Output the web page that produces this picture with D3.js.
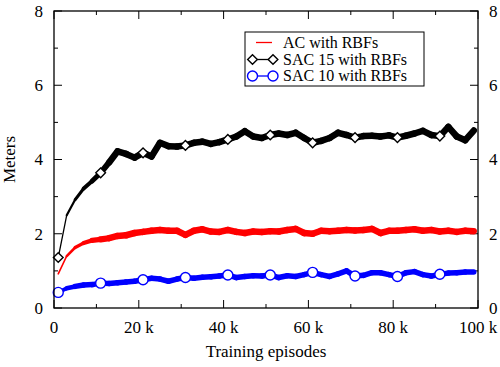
<!DOCTYPE html>
<html>
<head>
<meta charset="utf-8">
<script src="https://cdn.jsdelivr.net/npm/d3@7"></script>
<style>
  body { margin: 0; background: #fff; }
  svg text { font-family: "Liberation Serif", "Times New Roman", serif; font-size: 17px; fill: #000; }
</style>
</head>
<body>
<div id="chart"></div>
<script>
// episodes in thousands
const episodes = [1,3,5,7,9,11,13,15,17,19,21,23,25,27,29,31,33,35,37,39,41,43,45,47,49,
  51,53,55,57,59,61,63,65,67,69,71,73,75,77,79,81,83,85,87,89,91,93,95,97,99];
const acRbf = [0.92,1.4,1.63,1.75,1.82,1.85,1.88,1.94,1.96,2.02,2.05,2.08,2.1,2.08,2.08,1.97,2.08,2.12,2.06,2.05,
  2.1,2.05,2.02,2.06,2.05,2.07,2.06,2.1,2.13,2.02,2.0,2.08,2.07,2.08,2.1,2.09,2.1,2.13,2.02,2.08,
  2.08,2.1,2.12,2.08,2.1,2.06,2.08,2.05,2.08,2.07];
const sac15 = [1.36,2.5,2.92,3.22,3.42,3.64,3.92,4.22,4.15,4.05,4.18,4.08,4.45,4.36,4.35,4.38,4.45,4.48,4.42,4.47,
  4.54,4.62,4.76,4.62,4.58,4.66,4.7,4.66,4.72,4.58,4.45,4.5,4.58,4.72,4.66,4.59,4.63,4.64,4.62,4.65,
  4.59,4.64,4.7,4.77,4.66,4.63,4.88,4.62,4.52,4.78];
const sac10 = [0.42,0.53,0.58,0.62,0.63,0.67,0.66,0.68,0.7,0.72,0.76,0.8,0.78,0.72,0.78,0.82,0.8,0.83,0.84,0.86,
  0.89,0.82,0.85,0.87,0.86,0.89,0.82,0.87,0.85,0.9,0.96,0.9,0.85,0.92,1.0,0.86,0.88,0.95,0.95,0.9,
  0.85,0.95,0.98,0.9,0.86,0.91,0.94,0.95,0.97,0.97];
const markerEvery = 5;
const legendNames = ["AC with RBFs", "SAC 15 with RBFs", "SAC 10 with RBFs"];
const xTicks = [0, 20, 40, 60, 80, 100];
const yTicks = [0, 2, 4, 6, 8];

const W = 500, H = 367;
const margin = { top: 11, right: 22, bottom: 59, left: 54 };
const w = W - margin.left - margin.right;
const h = H - margin.top - margin.bottom;

const svg = d3.select("#chart").append("svg").attr("width", W).attr("height", H);
const g = svg.append("g").attr("transform", `translate(${margin.left},${margin.top})`);

const x = d3.scaleLinear().domain([0, 100]).range([0, w]);
const y = d3.scaleLinear().domain([0, 8]).range([h, 0]);

// ticks (inward on all four sides)
const minorX = d3.range(10, 100, 20), minorY = d3.range(1, 8, 2);
const tk = g.append("g").attr("stroke", "#000").attr("stroke-width", 1);
xTicks.concat(minorX).forEach(v => {
  const len = xTicks.includes(v) ? 8 : 4;
  tk.append("line").attr("x1", x(v)).attr("x2", x(v)).attr("y1", h).attr("y2", h - len);
  tk.append("line").attr("x1", x(v)).attr("x2", x(v)).attr("y1", 0).attr("y2", len);
});
yTicks.concat(minorY).forEach(v => {
  const len = yTicks.includes(v) ? 8 : 4;
  tk.append("line").attr("x1", 0).attr("x2", len).attr("y1", y(v)).attr("y2", y(v));
  tk.append("line").attr("x1", w).attr("x2", w - len).attr("y1", y(v)).attr("y2", y(v));
});

// tick labels
g.selectAll(".xl").data(xTicks).enter().append("text")
  .attr("x", d => x(d)).attr("y", h + 25).attr("text-anchor", "middle")
  .text(d => d === 0 ? "0" : d + " k");
g.selectAll(".yl").data(yTicks).enter().append("text")
  .attr("x", -11).attr("y", d => y(d)).attr("dy", "0.35em").attr("text-anchor", "end")
  .text(d => d);
g.selectAll(".yr").data(yTicks).enter().append("text")
  .attr("x", w + 11).attr("y", d => y(d)).attr("dy", "0.35em").attr("text-anchor", "start")
  .text(d => d);

g.append("text").attr("x", w / 2).attr("y", h + 49).attr("text-anchor", "middle").text("Training episodes");
g.append("text").attr("transform", `translate(${-39},${h / 2}) rotate(-90)`)
  .attr("text-anchor", "middle").text("Meters");

// series: each segment drawn on its own so the noisy band can widen as the run settles
const series = [
  { vals: acRbf, color: "#ff0000", band: 6.5, start: 0.25, marker: null },
  { vals: sac15, color: "#000000", band: 6.5, start: 0.2, marker: "diamond" },
  { vals: sac10, color: "#0000ff", band: 5.5, start: 0.7, marker: "circle" }
];

series.forEach(s => {
  const grp = g.append("g").attr("stroke", s.color).attr("stroke-linecap", "round");
  const segs = d3.pairs(s.vals.map((v, i) => [x(episodes[i]), y(v)]));
  grp.selectAll("line").data(segs).enter().append("line")
    .attr("x1", d => d[0][0]).attr("y1", d => d[0][1])
    .attr("x2", d => d[1][0]).attr("y2", d => d[1][1])
    .attr("stroke-width", (d, i) => s.band * Math.min(1, s.start + i * 0.14));
});

function drawMarker(sel, type, color, cx, cy) {
  if (type === "diamond") {
    sel.append("path").attr("d", d3.symbol(d3.symbolDiamond2, 60)())
      .attr("transform", `translate(${cx},${cy})`)
      .attr("fill", "#fff").attr("stroke", color).attr("stroke-width", 1.4);
  } else {
    sel.append("circle").attr("cx", cx).attr("cy", cy).attr("r", 5)
      .attr("fill", "#fff").attr("stroke", color).attr("stroke-width", 1.4);
  }
}

series.filter(s => s.marker).forEach(s => {
  s.vals.forEach((v, i) => {
    if (i % markerEvery === 0) drawMarker(g, s.marker, s.color, x(episodes[i]), y(v));
  });
});

// frame
g.append("rect").attr("width", w).attr("height", h).attr("fill", "none")
  .attr("stroke", "#000").attr("stroke-width", 1.3);

// legend
const lg = svg.append("g").attr("transform", "translate(245,32)");
lg.append("rect").attr("width", 179).attr("height", 54).attr("fill", "#fff")
  .attr("stroke", "#000").attr("stroke-width", 1);
const rows = [10.5, 27.5, 44];
series.forEach((s, i) => {
  const ry = rows[i];
  if (s.marker) {
    lg.append("line").attr("x1", 8).attr("x2", 28).attr("y1", ry).attr("y2", ry)
      .attr("stroke", s.color).attr("stroke-width", 1.3);
    drawMarker(lg, s.marker, s.color, 7.5, ry);
    drawMarker(lg, s.marker, s.color, 28, ry);
  } else {
    lg.append("line").attr("x1", 11).attr("x2", 27).attr("y1", ry).attr("y2", ry)
      .attr("stroke", s.color).attr("stroke-width", 1.3);
  }
  lg.append("text").attr("x", 38).attr("y", ry).attr("dy", "0.33em")
    .style("font-size", "16px").text(legendNames[i]);
});
</script>
</body>
</html>
